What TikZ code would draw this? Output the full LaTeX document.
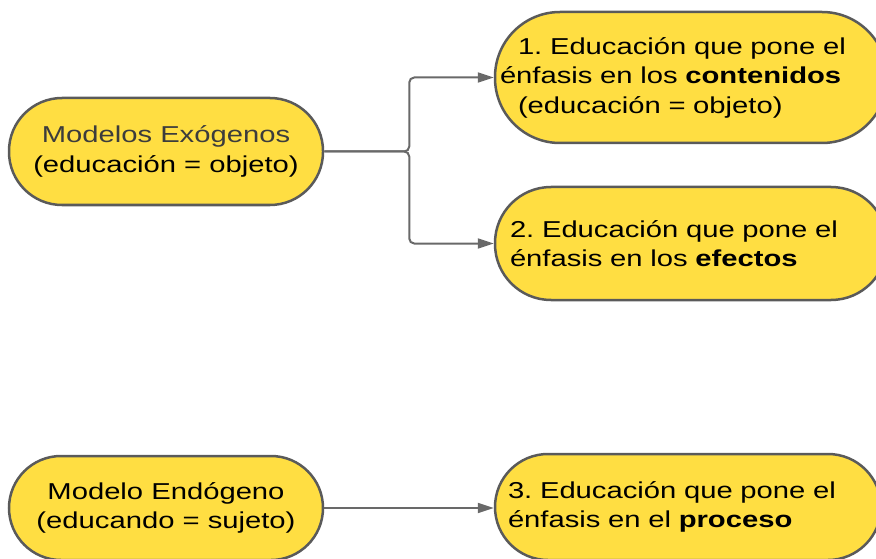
\documentclass[tikz,border=0pt]{standalone}
\usepackage{fontspec}
\setmainfont[FakeStretch=1.27]{Liberation Sans}
\usetikzlibrary{arrows.meta}
\definecolor{nodefill}{RGB}{255,222,66}
\definecolor{nodeline}{RGB}{90,90,90}
\definecolor{arrowline}{RGB}{105,105,105}
\definecolor{titlegray}{RGB}{60,60,60}
\frenchspacing
\begin{document}
\begin{tikzpicture}[x=1pt,y=-1pt,
  pill/.style={draw=nodeline, line width=2.5pt, fill=nodefill, rectangle, inner sep=0pt,
    font=\fontsize{23}{29.5}\selectfont},
  conn/.style={draw=arrowline, line width=2pt, -{Triangle[length=16pt,width=10pt]}, rounded corners=5pt}
]
\useasboundingbox (0,0) rectangle (876,559);
\node[pill, minimum width=314pt, minimum height=107pt, rounded corners=53pt, align=center] (A) at (166,151.5)
  {\textcolor{titlegray}{Modelos Exógenos}\\(educación = objeto)};
\node[pill, minimum width=392pt, minimum height=131pt, rounded corners=65pt, text width=382pt, align=left] (N1) at (691,77.5)
  {\hspace*{18pt}1. Educación que pone el\\énfasis en los \textbf{contenidos}\\\hspace*{18pt}(educación = objeto)};
\node[pill, minimum width=392pt, minimum height=113pt, rounded corners=56pt, text width=362pt, align=left] (N2) at (691,243.5)
  {2. Educación que pone el\\énfasis en los \textbf{efectos}};
\node[pill, minimum width=386pt, minimum height=106pt, rounded corners=53pt, text width=360pt, align=left] (N3) at (688,507)
  {3. Educación que pone el\\énfasis en el \textbf{proceso}};
\node[pill, minimum width=314pt, minimum height=104pt, rounded corners=52pt, align=center] (B) at (166,508)
  {Modelo Endógeno\\(educando = sujeto)};
\draw[conn] (A.east) -- ++(85,0) |- (N1.west);
\draw[conn] (A.east) -- ++(85,0) |- (N2.west);
\draw[conn] (B.east) -- (B.east -| N3.west);
\end{tikzpicture}
\end{document}
